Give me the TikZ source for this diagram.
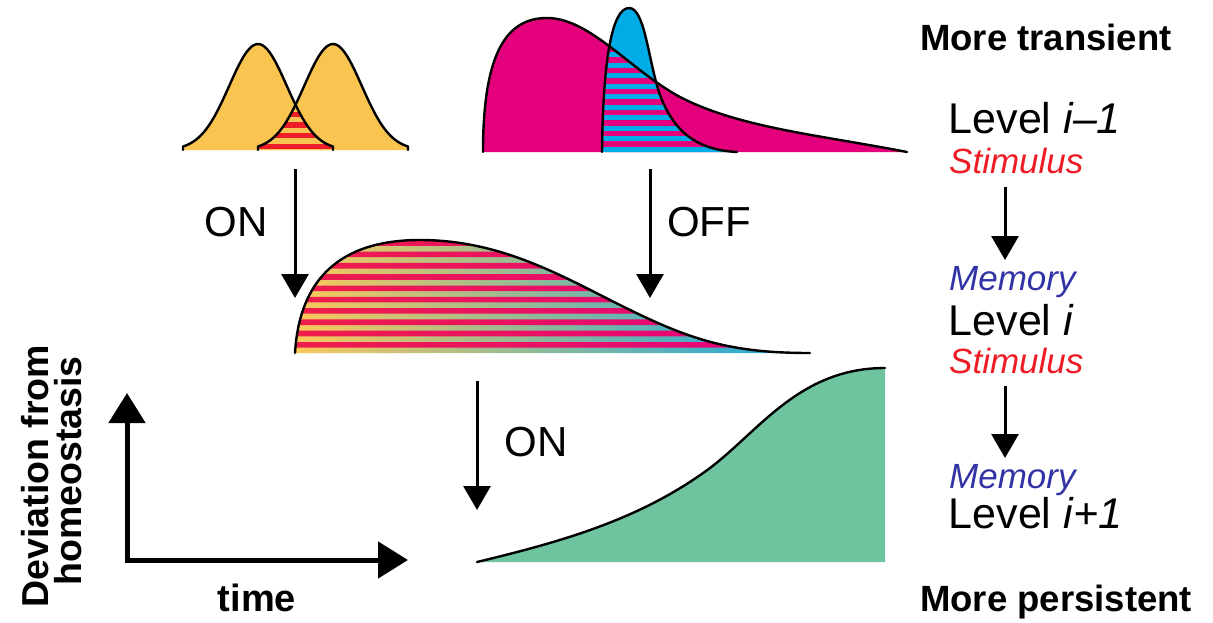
\documentclass[tikz,border=0pt]{standalone}
\usepackage{fontspec}
\setmainfont{Liberation Sans}
\usetikzlibrary{arrows.meta}
\definecolor{gold}{RGB}{250,196,80}
\definecolor{redst}{RGB}{237,30,40}
\definecolor{mag}{RGB}{228,0,124}
\definecolor{cyn}{RGB}{0,172,230}
\definecolor{grn}{RGB}{111,196,160}
\definecolor{lightL}{RGB}{250,200,90}
\definecolor{lightM}{RGB}{180,195,135}
\definecolor{lightR}{RGB}{20,170,225}
\definecolor{darkL}{RGB}{238,30,75}
\definecolor{darkR}{RGB}{228,0,130}
\definecolor{txtred}{RGB}{237,28,36}
\definecolor{txtblue}{RGB}{50,52,165}
\def\pMag{(483,152) .. controls (483,50) and (508,18) .. (547,18) .. controls (590,18) and (630,70) .. (680,97) .. controls (740,128) and (820,135) .. (907,152)}
\def\pCyn{(602,152) .. controls (603,60) and (612,8) .. (629,8) .. controls (645,8) and (648,60) .. (660,95) .. controls (675,135) and (700,150) .. (737,152)}
\def\pMid{(295,353) .. controls (300,270) and (350,240) .. (420,240) .. controls (500,240) and (560,275) .. (620,305) .. controls (690,340) and (730,353) .. (810,353)}
\def\pGrn{(477,562) .. controls (560,542) and (640,520) .. (710,468) .. controls (760,430) and (800,368) .. (885,368)}
\def\pGl{(183,150) -- plot[domain=-75:75,samples=60] ({258+\x},{150-106*exp(-((\x)*(\x))/1650)}) -- (333,150)}
\def\pGr{(258,150) -- plot[domain=-75:75,samples=60] ({333+\x},{150-106*exp(-((\x)*(\x))/1650)}) -- (408,150)}
\begin{document}
\begin{tikzpicture}[x=1pt,y=-1pt,
  outl/.style={line width=2.4pt, line join=round, line cap=round},
  arr/.style={line width=3pt, -{Triangle[width=27pt,length=24pt]}},
  axis/.style={line width=5pt, line join=miter, {Triangle[width=36pt,length=30pt]}-{Triangle[width=36pt,length=30pt]}},
  bigtxt/.style={inner sep=0pt, font=\fontsize{43}{50}\selectfont},
  lbltxt/.style={inner sep=0pt, font=\fontsize{42}{50}\selectfont},
  redtxt/.style={inner sep=0pt, text=txtred, font=\fontsize{35}{42}\selectfont\itshape},
  bluetxt/.style={inner sep=0pt, text=txtblue, font=\fontsize{35}{42}\selectfont\itshape},
  boldtxt/.style={inner sep=0pt, font=\fontsize{36.5}{44}\selectfont\bfseries}
]
\useasboundingbox (0,0) rectangle (1213,622);

% ---- yellow gaussians
\fill[gold] \pGl -- cycle;
\fill[gold] \pGr -- cycle;
\begin{scope}
  \clip \pGl -- cycle;
  \clip \pGr -- cycle;
  \foreach \k in {0,...,7} \fill[redst] (180,{143.5-10.6*\k}) rectangle (410,{149-10.6*\k});
\end{scope}
\draw[outl] \pGl;
\draw[outl] \pGr;

% ---- magenta / cyan
\fill[mag] \pMag -- cycle;
\fill[cyn] \pCyn -- cycle;
\begin{scope}
  \clip \pMag -- cycle;
  \clip \pCyn -- cycle;
  \foreach \k in {0,...,14} \fill[mag] (598,{141-10.5*\k}) rectangle (742,{146.5-10.5*\k});
\end{scope}
\draw[outl] \pMag;
\draw[outl] \pCyn;

% ---- middle striped shape
\begin{scope}
  \clip \pMid -- cycle;
  \shade[left color=lightL, middle color=lightM, right color=lightR] (295,235) rectangle (810,356);
  \clip \foreach \k in {0,...,11} {(290,{342-11.3*\k}) rectangle (815,{347.6-11.3*\k})};
  \shade[left color=darkL, right color=darkR] (295,235) rectangle (810,356);
\end{scope}
\draw[outl] \pMid;

% ---- green
\fill[grn] \pGrn -- (885,562) -- (477,562) -- cycle;
\draw[outl] \pGrn;

% ---- arrows and labels
\coordinate (on1s) at (295,169);
\coordinate (on1e) at (295,298);
\coordinate (offs) at (650,169);
\coordinate (offe) at (650,298);
\coordinate (on2s) at (477,381);
\coordinate (on2e) at (477,510);
\draw[arr] (on1s) -- (on1e);
\draw[arr] (offs) -- (offe);
\draw[arr] (on2s) -- (on2e);
\node[lbltxt] (lon1) at (236,222) {ON};
\node[lbltxt] (loff) at (709,222) {OFF};
\node[lbltxt] (lon2) at (536,442) {ON};

% ---- axes
\coordinate (ytip) at (127,393);
\coordinate (corner) at (127,560);
\coordinate (xtip) at (408,560);
\draw[axis] (ytip) -- (corner) -- (xtip);
\node[boldtxt, font=\fontsize{38}{44}\selectfont\bfseries] (time) at (257,598) {time};
\node[boldtxt, rotate=90, font=\fontsize{37.5}{44}\selectfont\bfseries] (dev) at (35,476) {Deviation from};
\node[boldtxt, rotate=90, font=\fontsize{37.5}{44}\selectfont\bfseries] (homeo) at (68,471) {homeostasis};

% ---- right column
\node[boldtxt, anchor=base west] (trans) at (920,50) {More transient};
\node[bigtxt, anchor=base west] (lv1) at (948.5,133.3) {Level \textit{i–1}};
\node[redtxt, anchor=base west] (st1) at (949,173.3) {Stimulus};
\node[bluetxt, anchor=base west] (me1) at (949,290) {Memory};
\node[bigtxt, anchor=base west] (lv2) at (948.5,335) {Level \textit{i}};
\node[redtxt, anchor=base west] (st2) at (949,373.3) {Stimulus};
\node[bluetxt, anchor=base west] (me2) at (949,488.3) {Memory};
\node[bigtxt, anchor=base west] (lv3) at (948.5,528.3) {Level \textit{i+1}};
\node[boldtxt, anchor=base west] (pers) at (920,611) {More persistent};
\coordinate (r1s) at (1005,187);
\coordinate (r1e) at (1005,260);
\coordinate (r2s) at (1005,386);
\coordinate (r2e) at (1005,458);
\draw[arr] (r1s) -- (r1e);
\draw[arr] (r2s) -- (r2e);
\end{tikzpicture}
\end{document}
